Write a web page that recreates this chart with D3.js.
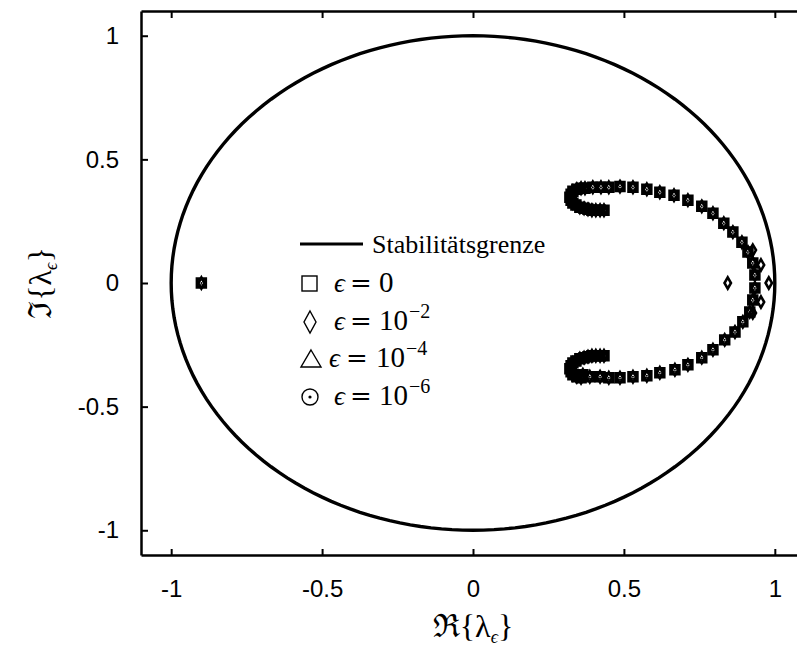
<!DOCTYPE html>
<html>
<head>
<meta charset="utf-8">
<script src="https://cdn.jsdelivr.net/npm/d3@7/dist/d3.min.js"></script>
<style>
body { margin: 0; background: #fff; }
.tick text { font-family: "Liberation Sans", Arial, sans-serif; font-size: 24px; fill: #000; }
.serif { font-family: "Liberation Serif", "DejaVu Serif", serif; fill: #000; }
</style>
</head>
<body>
<svg id="chart" width="797" height="649"></svg>
<script>
// achsen
const xTicks = [-1, -0.5, 0, 0.5, 1];
const yTicks = [-1, -0.5, 0, 0.5, 1];

// eigenwerte, epsilon = 0, 1e-4, 1e-6 liegen aufeinander
const punktLinks = [[-0.9, 0]];
const hakenOben = [
    [0.434, 0.294], [0.421, 0.294], [0.407, 0.294], [0.394, 0.294], [0.381, 0.298],
    [0.368, 0.302], [0.354, 0.306], [0.341, 0.315], [0.331, 0.323], [0.325, 0.335],
    [0.321, 0.347], [0.325, 0.359], [0.331, 0.371], [0.344, 0.379], [0.358, 0.383]
];
const bogenOben = [
    [0.371, 0.383], [0.397, 0.387], [0.424, 0.387], [0.450, 0.387], [0.487, 0.390],
    [0.530, 0.387], [0.576, 0.379], [0.619, 0.367], [0.666, 0.355], [0.712, 0.335],
    [0.758, 0.310], [0.795, 0.282], [0.831, 0.242], [0.861, 0.206], [0.891, 0.165],
    [0.911, 0.125], [0.927, 0.081], [0.934, 0.032]
];
const bogenUnten = [
    [0.364, -0.371], [0.387, -0.379], [0.421, -0.379], [0.450, -0.383], [0.487, -0.383],
    [0.530, -0.379], [0.576, -0.375], [0.619, -0.363], [0.669, -0.351], [0.712, -0.331],
    [0.758, -0.302], [0.795, -0.270], [0.834, -0.230], [0.868, -0.198], [0.894, -0.157],
    [0.917, -0.117], [0.927, -0.069], [0.934, -0.020]
];
const hakenUnten = [
    [0.434, -0.294], [0.421, -0.294], [0.407, -0.294], [0.394, -0.294], [0.381, -0.298],
    [0.368, -0.302], [0.354, -0.306], [0.341, -0.315], [0.331, -0.323], [0.325, -0.335],
    [0.321, -0.347], [0.325, -0.359], [0.331, -0.371], [0.344, -0.379], [0.358, -0.383]
];
// epsilon = 1e-2 weicht am rechten ende ab
const eps2Extra = [
    [0.844, 0], [0.980, 0], [0.954, 0.073], [0.954, -0.077], [0.927, 0.133], [0.927, -0.121]
];

const legendeEintraege = ["0", "10", "10", "10"];
const legendeExponent = ["", "\u22122", "\u22124", "\u22126"];

const alle = punktLinks.concat(hakenOben, bogenOben, bogenUnten, hakenUnten);
const eps0 = alle, eps4 = alle, eps6 = alle;
const eps2 = alle.concat(eps2Extra);

const svg = d3.select("#chart");
const x = d3.scaleLinear().domain([-1.1, 1.1]).range([141, 805]);
const y = d3.scaleLinear().domain([-1.1, 1.1]).range([555, 11]);

// stabilitaetsgrenze (einheitskreis)
const winkel = d3.range(0, 361, 2);
svg.append("path")
    .datum(winkel)
    .attr("d", d3.line().x(w => x(Math.cos(w * Math.PI / 180))).y(w => y(Math.sin(w * Math.PI / 180))))
    .style("fill", "none")
    .style("stroke", "#000")
    .style("stroke-width", 3.4);

// achsen
let achseLinks = svg.append("g").attr("transform", "translate(141,0)")
    .call(d3.axisLeft(y).tickValues(yTicks).tickSizeInner(-7).tickSizeOuter(0).tickPadding(22).tickFormat(d3.format("")));
let achseUnten = svg.append("g").attr("transform", "translate(0,555)")
    .call(d3.axisBottom(x).tickValues(xTicks).tickSizeInner(-6).tickSizeOuter(0).tickPadding(25).tickFormat(d3.format("")));
let achseOben = svg.append("g").attr("transform", "translate(0,11)")
    .call(d3.axisTop(x).tickValues(xTicks).tickSizeInner(-7).tickSizeOuter(0).tickFormat(""));
achseOben.selectAll("text").remove();
svg.selectAll(".domain").style("stroke", "#000").style("stroke-width", 2.5);
svg.selectAll(".tick line").style("stroke", "#000").style("stroke-width", 2);
svg.selectAll(".tick text").text(d => String(d).replace("\u2212", "-"));

// marker
const quadrat = d3.symbol().type(d3.symbolSquare).size(72);
const raute = d3.symbol().type(d3.symbolDiamond).size(36);
const dreieck = d3.symbol().type(d3.symbolTriangle).size(18);

function zeichne(daten, pfad, breite) {
    svg.append("g").selectAll("path")
        .data(daten)
        .enter()
        .append("path")
        .attr("d", pfad)
        .attr("transform", d => `translate(${x(d[0])},${y(d[1])})`)
        .style("fill", "none")
        .style("stroke", "#000")
        .style("stroke-width", breite);
}
zeichne(eps0, quadrat, 3);
zeichne(eps2, raute, 2.6);
zeichne(eps4, dreieck, 1);
svg.append("g").selectAll("circle")
    .data(eps6)
    .enter()
    .append("circle")
    .attr("cx", d => x(d[0]))
    .attr("cy", d => y(d[1]))
    .attr("r", 1)
    .style("fill", "#000");

// beschriftung
svg.append("text")
    .attr("class", "serif")
    .attr("x", 473).attr("y", 637)
    .attr("text-anchor", "middle")
    .style("font-size", "32px")
    .html('\u211C{\u03BB<tspan font-size="18" dy="6" font-style="italic">\u03F5</tspan><tspan dy="-6">}</tspan>');
svg.append("text")
    .attr("class", "serif")
    .attr("transform", "translate(51,283) rotate(-90)")
    .attr("text-anchor", "middle")
    .style("font-size", "32px")
    .html('\u2111{\u03BB<tspan font-size="18" dy="6" font-style="italic">\u03F5</tspan><tspan dy="-6">}</tspan>');

// legende
let legende = svg.append("g");
legende.append("line")
    .attr("x1", 300).attr("x2", 363).attr("y1", 244).attr("y2", 244)
    .style("stroke", "#000").style("stroke-width", 3);
legende.append("text")
    .attr("class", "serif")
    .attr("x", 372).attr("y", 253)
    .style("font-size", "26px")
    .text("Stabilitätsgrenze");

const zeilenY = [283, 321, 358, 396];
legende.append("rect").attr("x", 302).attr("y", 276).attr("width", 15).attr("height", 15)
    .style("fill", "none").style("stroke", "#000").style("stroke-width", 1.4);
legende.append("path").attr("d", "M310,311 L316,322 L310,333 L304,322 Z")
    .style("fill", "none").style("stroke", "#000").style("stroke-width", 1.4);
legende.append("path").attr("d", "M311,350 L321,367 L301,367 Z")
    .style("fill", "none").style("stroke", "#000").style("stroke-width", 1.4);
legende.append("circle").attr("cx", 310).attr("cy", 397).attr("r", 8)
    .style("fill", "none").style("stroke", "#000").style("stroke-width", 1.4);
legende.append("circle").attr("cx", 310).attr("cy", 397).attr("r", 1.6).style("fill", "#000");

let eintrag = legende.selectAll(".eintrag")
    .data(legendeEintraege)
    .enter()
    .append("g");
eintrag.append("text")
    .attr("class", "serif")
    .attr("x", (d, i) => i == 2 ? 329 : 334)
    .attr("y", (d, i) => zeilenY[i] + 9)
    .style("font-size", "27px")
    .style("font-style", "italic")
    .text("\u03F5");
eintrag.append("text")
    .attr("x", (d, i) => i == 2 ? 346 : 350)
    .attr("y", (d, i) => zeilenY[i] + 9)
    .style("font-family", "DejaVu Serif, serif")
    .style("font-size", "26px")
    .text("=");
eintrag.append("text")
    .attr("class", "serif")
    .attr("x", (d, i) => i == 2 ? 376 : 379)
    .attr("y", (d, i) => zeilenY[i] + 9)
    .style("font-size", "29px")
    .html((d, i) => d + (legendeExponent[i] ? '<tspan dx="1" dy="-12" font-size="20">' + legendeExponent[i] + '</tspan>' : ''));
</script>
</body>
</html>
